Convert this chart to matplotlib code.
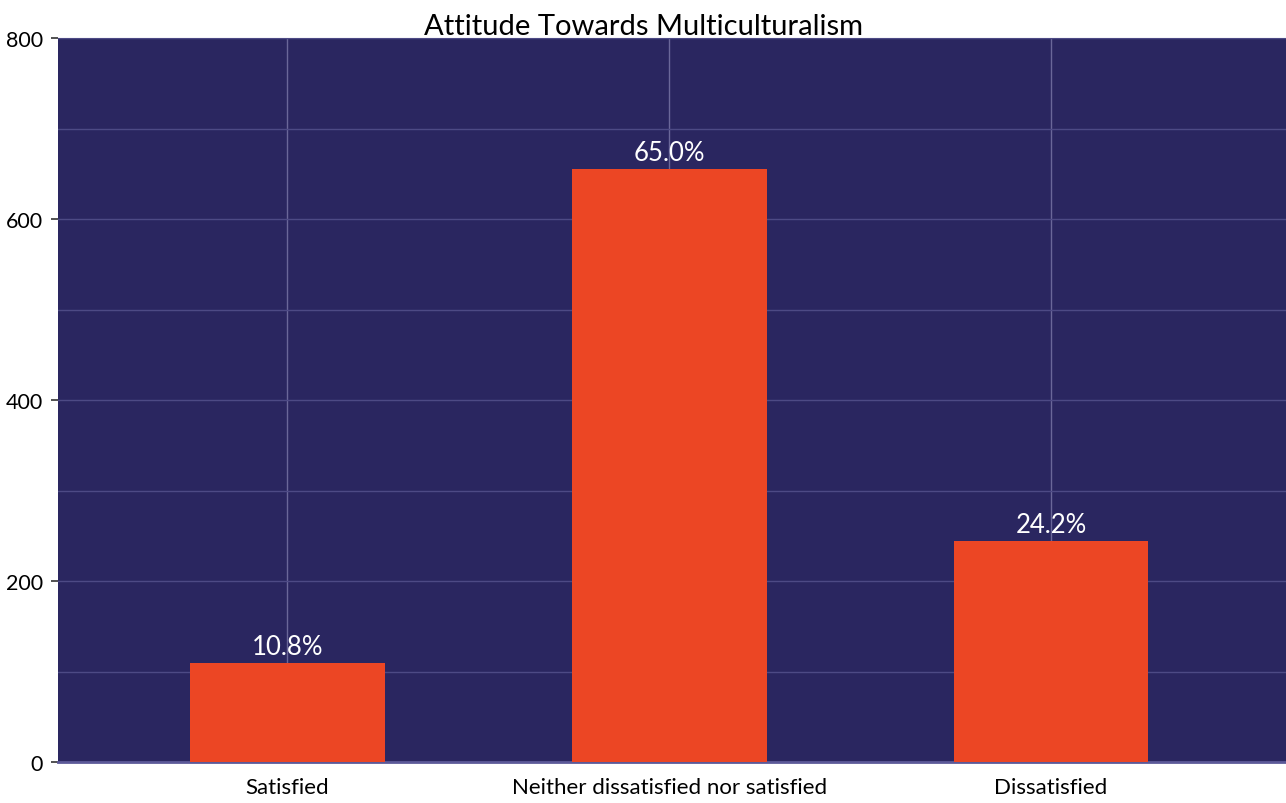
import matplotlib
matplotlib.use("Agg")
import matplotlib.pyplot as plt
from matplotlib.ticker import MultipleLocator

categories = ["Satisfied", "Neither dissatisfied nor satisfied", "Dissatisfied"]
counts = [109, 655, 244]
pct_labels = ["10.8%", "65.0%", "24.2%"]
y_ticks = [0, 200, 400, 600, 800]
title = "Attitude Towards Multiculturalism"

plt.rcParams['font.family'] = ['Lato', 'DejaVu Sans']

fig = plt.figure(figsize=(12.86, 8.04), dpi=100)
ax = fig.add_axes([58/1286, 41/804, 1 - 58/1286, 724/804])
ax.set_facecolor('#2a2660')

x = list(range(len(categories)))
bars = ax.bar(x, counts, width=0.51, color='#ec4624', zorder=3)

for xi, c, lab in zip(x, counts, pct_labels):
    ax.annotate(lab, (xi, c), xytext=(0, 3), textcoords='offset points',
                ha='center', va='bottom', color='white', fontsize=18.5, zorder=4)

ax.set_xlim(-0.6, 2.615)
ax.set_ylim(0, 800)
ax.set_yticks(y_ticks)
ax.yaxis.set_minor_locator(MultipleLocator(100))
ax.set_xticks(x)
ax.set_xticklabels(categories, fontsize=16)
ax.tick_params(axis='y', which='major', labelsize=15.5, length=5, width=1.2, color='#333333', pad=6)
ax.tick_params(axis='y', which='minor', length=0)
ax.tick_params(axis='x', length=0, pad=11)

ax.grid(True, which='both', axis='y', color='#4d4a85', linewidth=1, zorder=1)
ax.grid(True, which='major', axis='x', color='#6a6799', linewidth=1, zorder=1)
ax.set_axisbelow(True)

for s in ['left', 'right']:
    ax.spines[s].set_visible(False)
ax.spines['top'].set_color('#4d4a85')
ax.spines['bottom'].set_color('#5c5998')
ax.spines['bottom'].set_linewidth(2)

fig.text(0.5, 1 - 40/804, title, fontsize=21, color='black',
         ha='center', va='bottom')

fig.savefig('out.png', dpi=100, facecolor='white')
